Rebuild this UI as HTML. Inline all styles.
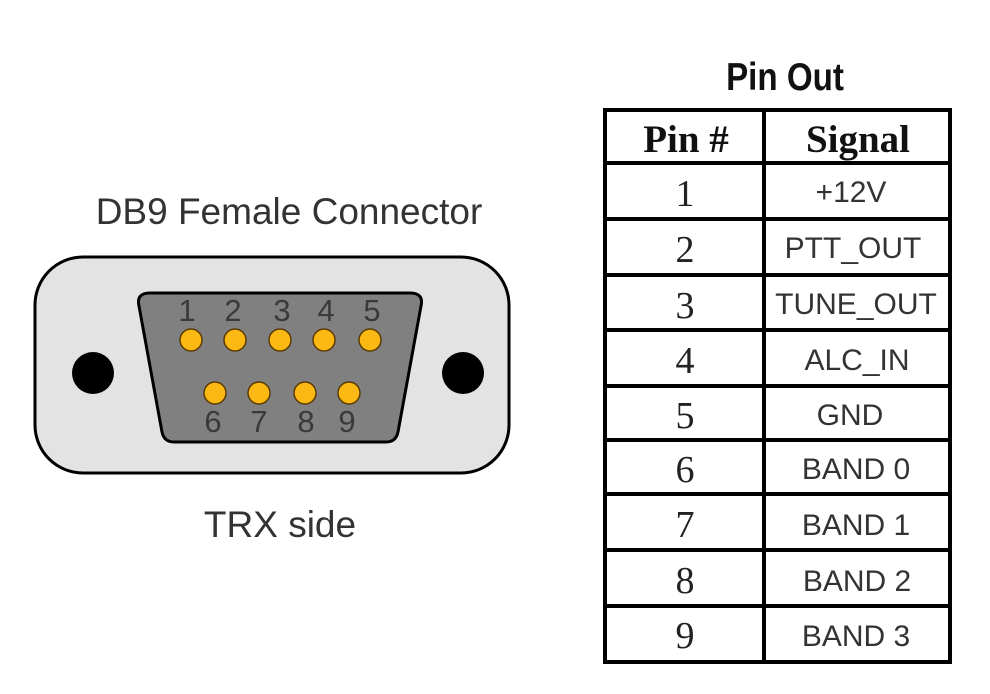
<!DOCTYPE html>
<html><head><meta charset="utf-8"><style>html,body{margin:0;padding:0;background:#fff}svg{display:block}</style></head>
<body>
<svg width="990" height="694" viewBox="0 0 990 694" xmlns="http://www.w3.org/2000/svg">
<rect width="990" height="694" fill="#fff"/>
<text x="289" y="224" font-family="Liberation Sans, sans-serif" font-size="37" fill="#333" text-anchor="middle">DB9 Female Connector</text>
<text x="280" y="537" font-family="Liberation Sans, sans-serif" font-size="37" fill="#333" text-anchor="middle">TRX side</text>
<rect x="35" y="257" width="474" height="216" rx="48" fill="#e3e3e3" stroke="#000" stroke-width="3"/>
<path d="M150 293 L410 293 Q424 293 421 306 L398 432 Q396 442 386 442 L174 442 Q164 442 162 432 L139 306 Q136 293 150 293 Z" fill="#808080" stroke="#000" stroke-width="3"/>
<circle cx="93" cy="373" r="21" fill="#000"/>
<circle cx="463" cy="373" r="21" fill="#000"/>
<g font-family="Liberation Sans, sans-serif" font-size="31" fill="#3a3a3a" text-anchor="middle">
<text x="187" y="321">1</text><text x="233" y="321">2</text><text x="282" y="321">3</text><text x="326" y="321">4</text><text x="372" y="321">5</text>
<text x="213" y="432">6</text><text x="259" y="432">7</text><text x="306" y="432">8</text><text x="347" y="432">9</text>
</g>
<g fill="#fdb913" stroke="#5a3a00" stroke-width="1.5">
<circle cx="191" cy="340" r="11"/><circle cx="235" cy="340" r="11"/><circle cx="280" cy="340" r="11"/><circle cx="324" cy="340" r="11"/><circle cx="370" cy="340" r="11"/>
<circle cx="215" cy="393" r="11"/><circle cx="259" cy="393" r="11"/><circle cx="305" cy="393" r="11"/><circle cx="349" cy="393" r="11"/>
</g>
<text x="785" y="90" font-family="Liberation Sans, sans-serif" font-size="39" font-weight="bold" fill="#111" text-anchor="middle" transform="translate(785 0) scale(0.85 1) translate(-785 0)">Pin Out</text>
<g stroke="#000" stroke-width="4" fill="none">
<rect x="605" y="110" width="345" height="552"/>
<line x1="764" y1="110" x2="764" y2="662"/>
<line x1="605" y1="163" x2="950" y2="163"/>
<line x1="605" y1="219" x2="950" y2="219"/>
<line x1="605" y1="275" x2="950" y2="275"/>
<line x1="605" y1="330" x2="950" y2="330"/>
<line x1="605" y1="386" x2="950" y2="386"/>
<line x1="605" y1="440" x2="950" y2="440"/>
<line x1="605" y1="494" x2="950" y2="494"/>
<line x1="605" y1="550" x2="950" y2="550"/>
<line x1="605" y1="606" x2="950" y2="606"/>
</g>
<g font-family="Liberation Serif, serif" font-size="39" font-weight="bold" fill="#111" text-anchor="middle">
<text x="686" y="152">Pin #</text><text x="858" y="152">Signal</text>
</g>
<g font-family="Liberation Serif, serif" font-size="38" fill="#222" text-anchor="middle">
<text x="685" y="206">1</text><text x="685" y="262">2</text><text x="685" y="318">3</text><text x="685" y="373">4</text><text x="685" y="428">5</text>
<text x="685" y="482">6</text><text x="685" y="537">7</text><text x="685" y="593">8</text><text x="685" y="648">9</text>
</g>
<g font-family="Liberation Sans, sans-serif" font-size="30" fill="#333" text-anchor="middle">
<text x="851" y="202">+12V</text><text x="853" y="258">PTT_OUT</text><text x="856" y="314">TUNE_OUT</text><text x="857" y="370">ALC_IN</text><text x="850" y="425">GND</text>
<text x="856" y="479">BAND 0</text><text x="856" y="535">BAND 1</text><text x="857" y="591">BAND 2</text><text x="856" y="646">BAND 3</text>
</g>
</svg>
</body></html>
